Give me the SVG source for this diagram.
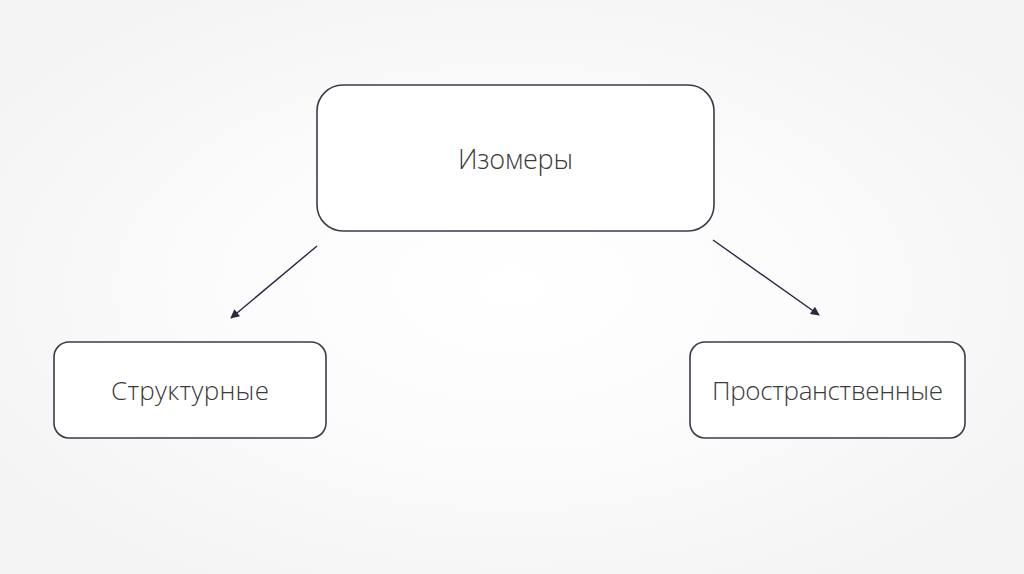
<svg xmlns="http://www.w3.org/2000/svg" width="1024" height="574" viewBox="0 0 1024 574">
<defs>
<radialGradient id="bg" cx="0.5" cy="0.5" r="0.6">
<stop offset="0" stop-color="#ffffff"/>
<stop offset="0.5" stop-color="#fbfbfb"/>
<stop offset="1" stop-color="#f4f4f4"/>
</radialGradient>
<marker id="ah" viewBox="0 0 10 10" refX="9" refY="5" markerWidth="10" markerHeight="9" markerUnits="userSpaceOnUse" orient="auto">
<path d="M0,0 L10,5 L0,10 Z" fill="#2e2540"/>
</marker>
<style>
.box{fill:#ffffff;stroke:#3d3a47;stroke-width:1.6}
.lbl{font-family:"Open Sans","Noto Sans","Liberation Sans",sans-serif;font-weight:300;fill:#3a3a3a;text-anchor:middle}
.con{stroke:#2e2540;stroke-width:1.4;fill:none;marker-end:url(#ah)}
</style>
</defs>
<rect x="0" y="0" width="1024" height="574" fill="url(#bg)"/>
<g id="connectors">
<line class="con" x1="317" y1="246" x2="231" y2="318"/>
<line class="con" x1="713" y1="240" x2="819" y2="315"/>
</g>
<g id="node-izomery">
<rect class="box" x="317" y="85" width="397" height="146" rx="26"/>
<text class="lbl" x="515.5" y="169" font-size="27" textLength="115">Изомеры</text>
</g>
<g id="node-strukturnye">
<rect class="box" x="54" y="342" width="272" height="96" rx="15"/>
<text class="lbl" x="190" y="400" font-size="26" textLength="158">Структурные</text>
</g>
<g id="node-prostranstvennye">
<rect class="box" x="690" y="342" width="275" height="96" rx="15"/>
<text class="lbl" x="827.5" y="400" font-size="26" textLength="231">Пространственные</text>
</g>
</svg>
